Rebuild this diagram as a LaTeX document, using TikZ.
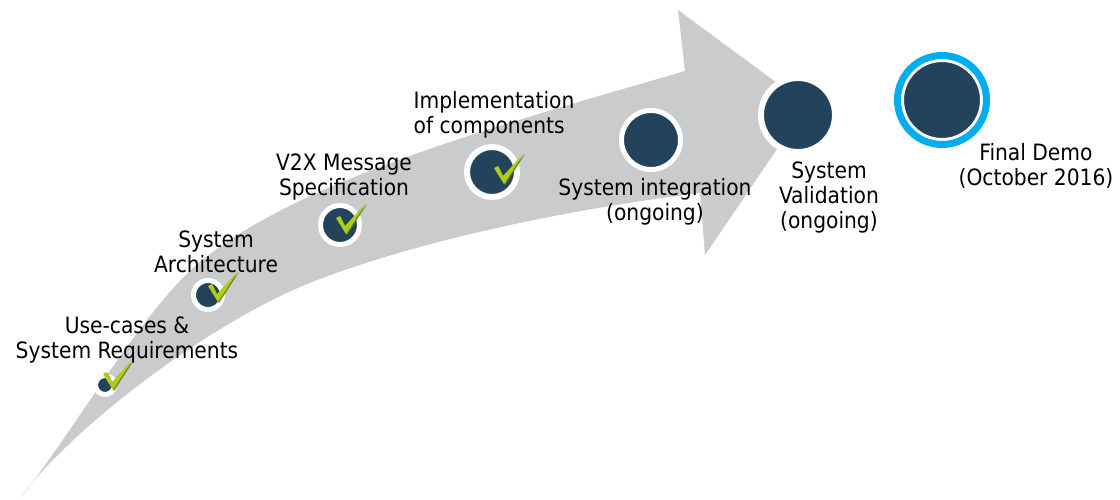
\documentclass[tikz,border=0pt]{standalone}
\usepackage{fontspec}
\setmainfont{DejaVu Sans Condensed}
\usepackage{tikz}
\pgfdeclarelayer{arrowlayer}
\pgfdeclarelayer{nodelayer}
\pgfsetlayers{arrowlayer,nodelayer,main}
\definecolor{arrowgrey}{RGB}{201,203,205}
\definecolor{navy}{RGB}{35,66,91}
\definecolor{ringblue}{RGB}{0,174,239}
\definecolor{tickgreen}{RGB}{172,205,28}
\definecolor{tickdark}{RGB}{112,134,22}
\tikzstyle{milestone}=[circle,fill=navy,draw=white,inner sep=0pt]
\tikzstyle{mtext}=[align=center,inner sep=0pt,font={\fontsize{22.5}{25}\selectfont}]
\tikzset{tickmark/.pic={
	\fill[tickdark] (-8,-13) -- (-4,-15) -- (1,-4) -- (22,-28) -- (2,3) -- cycle;
	\fill[tickgreen] (-9,-14) -- (-5,-16) -- (0,-6) -- (21,-29) -- (1,2) -- cycle;
}}

\begin{document}
\begin{tikzpicture}[x=1pt,y=-1pt]
	\useasboundingbox (0,0) rectangle (1120,499);
	\begin{pgfonlayer}{arrowlayer}
		% curved body and head
		\fill[arrowgrey] (20,498) .. controls (70,438) and (140,312) .. (200,262)
			.. controls (300,179) and (500,125) .. (685,71)
			-- (678,10) -- (807,105) -- (705,255) -- (700,193)
			.. controls (560,210) and (400,245) .. (300,287)
			.. controls (200,330) and (70,430) .. (20,498) -- cycle;
	\end{pgfonlayer}
	\begin{pgfonlayer}{nodelayer}
		\node [style=milestone, minimum size=19pt, line width=5pt] (uc) at (105,385) {};
		\node [style=milestone, minimum size=29pt, line width=5pt] (arch) at (208,295) {};
		\node [style=milestone, minimum size=39pt, line width=5pt] (vmsg) at (340,225) {};
		\node [style=milestone, minimum size=50pt, line width=6pt] (impl) at (492,172) {};
		\node [style=milestone, minimum size=59pt, line width=5pt] (integ) at (651,140) {};
		\node [style=milestone, minimum size=74pt, line width=6pt] (valid) at (798,115) {};
		\node [style=milestone, minimum size=79pt, line width=3pt] (demo) at (942,100) {};
		\draw [ringblue, line width=7pt] (demo.center) circle (44.5);
	\end{pgfonlayer}
	\pic at (112,388) {tickmark};
	\pic at (217,300) {tickmark};
	\pic at (345,232) {tickmark};
	\pic at (503,182) {tickmark};
	\node [style=mtext] (uctext) at (127,340) {Use-cases \&\\System Requirements};
	\node [style=mtext] (archtext) at (216,252) {System\\Architecture};
	\node [style=mtext] (vmsgtext) at (344,177) {V2X Message\\Specification};
	\node [style=mtext, align=left] (impltext) at (494,115) {Implementation\\of components};
	\node [style=mtext] (integtext) at (655,202) {System integration\\(ongoing)};
	\node [style=mtext] (validtext) at (829,197) {System\\Validation\\(ongoing)};
	\node [style=mtext] (demotext) at (1036,166) {Final Demo\\(October 2016)};
\end{tikzpicture}
\end{document}
